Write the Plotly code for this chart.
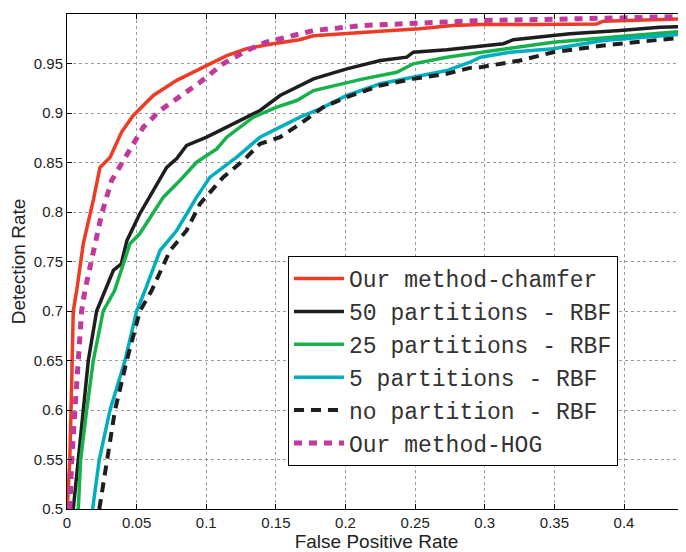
import plotly.graph_objects as go

# ROC curves
chamfer_fpr = [0.0002, 0.002, 0.0029, 0.0036, 0.0045, 0.007, 0.0117, 0.0189, 0.0237, 0.0309, 0.0393, 0.0476,
               0.062, 0.0788, 0.0955, 0.1147, 0.129, 0.148, 0.167, 0.177, 0.225, 0.253, 0.277, 0.297, 0.3373,
               0.3804, 0.3851, 0.4445]
chamfer_dr = [0.5, 0.55, 0.6, 0.65, 0.7, 0.721, 0.768, 0.812, 0.845, 0.855, 0.881, 0.8975,
              0.9177, 0.933, 0.9446, 0.958, 0.965, 0.970, 0.974, 0.978, 0.9826, 0.985, 0.9884, 0.9894, 0.9894,
              0.99, 0.9927, 0.9951]

p50_fpr = [0.0045, 0.0081, 0.0117, 0.0153, 0.0213, 0.0273, 0.0333, 0.039, 0.043, 0.0522, 0.062, 0.0716,
           0.0788, 0.0859, 0.1003, 0.1194, 0.1386, 0.153, 0.177, 0.2009, 0.225, 0.244, 0.2487, 0.2727, 0.2894,
           0.3133, 0.3205, 0.3612, 0.3971, 0.4258, 0.4445]
p50_dr = [0.5, 0.55, 0.6, 0.65, 0.7, 0.7207, 0.741, 0.7477, 0.771, 0.798, 0.8217, 0.845,
          0.854, 0.8672, 0.8756, 0.889, 0.9025, 0.9177, 0.9345, 0.9446, 0.953, 0.9564, 0.9614, 0.9638, 0.9665,
          0.97, 0.974, 0.98, 0.9833, 0.9867, 0.9874]

p25_fpr = [0.0081, 0.0098, 0.0141, 0.0189, 0.026, 0.0342, 0.0452, 0.0522, 0.0692, 0.0811, 0.0931, 0.1075,
           0.1147, 0.1338, 0.1506, 0.165, 0.177, 0.2128, 0.2368, 0.2487, 0.2727, 0.297, 0.3181, 0.3492, 0.3971,
           0.4445]
p25_dr = [0.5, 0.55, 0.6, 0.65, 0.7, 0.7207, 0.7679, 0.778, 0.815, 0.8318, 0.8503, 0.8638,
          0.8756, 0.8958, 0.9059, 0.9126, 0.9227, 0.9345, 0.9412, 0.9497, 0.9564, 0.9614, 0.965, 0.9715, 0.9773,
          0.9826]

p5_fpr = [0.0184, 0.0232, 0.0309, 0.0417, 0.05, 0.056, 0.0668, 0.0788, 0.0931, 0.1027, 0.1219, 0.1386,
          0.153, 0.1673, 0.1817, 0.2009, 0.225, 0.2487, 0.2727, 0.2894, 0.297, 0.3181, 0.3492, 0.3851, 0.4445]
p5_dr = [0.5, 0.55, 0.6, 0.65, 0.7, 0.7207, 0.7611, 0.7813, 0.815, 0.8352, 0.8554, 0.8756,
         0.8857, 0.8958, 0.9042, 0.9177, 0.9295, 0.9362, 0.9429, 0.9513, 0.9564, 0.9614, 0.965, 0.9732, 0.98]

nop_fpr = [0.0232, 0.0285, 0.0345, 0.0429, 0.0524, 0.0608, 0.074, 0.0859, 0.0955, 0.1122, 0.1266, 0.1386,
           0.153, 0.1673, 0.184, 0.2009, 0.225, 0.2487, 0.2727, 0.2894, 0.297, 0.3253, 0.3492, 0.3851, 0.4445]
nop_dr = [0.5, 0.55, 0.6, 0.65, 0.7, 0.7207, 0.7611, 0.7813, 0.8083, 0.8352, 0.852, 0.8689,
          0.8756, 0.889, 0.9059, 0.916, 0.9278, 0.9345, 0.9396, 0.9456, 0.9463, 0.953, 0.9614, 0.9682, 0.9766]

hog_fpr = [0.002, 0.0034, 0.0057, 0.0081, 0.0105, 0.0129, 0.0177, 0.0249, 0.032, 0.043, 0.0548, 0.0668,
           0.0788, 0.0955, 0.112, 0.129, 0.143, 0.153, 0.177, 0.213, 0.2487, 0.297, 0.361, 0.4445]
hog_dr = [0.5, 0.55, 0.6, 0.65, 0.7, 0.721, 0.754, 0.798, 0.8318, 0.8588, 0.8857, 0.9025,
          0.9143, 0.931, 0.9497, 0.963, 0.9715, 0.975, 0.9833, 0.9884, 0.9907, 0.9934, 0.995, 0.9975]

x_ticks = [0, 0.05, 0.1, 0.15, 0.2, 0.25, 0.3, 0.35, 0.4]
y_ticks = [0.5, 0.55, 0.6, 0.65, 0.7, 0.75, 0.8, 0.85, 0.9, 0.95, 1]

series = [
    ("Our method-chamfer", chamfer_fpr, chamfer_dr, "#EE3B24", "solid", 3.5),
    ("50 partitions - RBF", p50_fpr, p50_dr, "#1E1E1E", "solid", 3.5),
    ("25 partitions - RBF", p25_fpr, p25_dr, "#17B04B", "solid", 3.5),
    ("5 partitions - RBF", p5_fpr, p5_dr, "#00AEC0", "solid", 3.5),
    ("no partition - RBF", nop_fpr, nop_dr, "#1E1E1E", "10px,7px", 4),
    ("Our method-HOG", hog_fpr, hog_dr, "#C2399B", "8px,7px", 5),
]

fig = go.Figure()
for name, xs, ys, col, dash, w in series:
    fig.add_trace(go.Scatter(x=xs, y=ys, mode="lines", name=name,
                             line=dict(color=col, width=w, dash=dash)))

# page body adds an 8px margin, so the figure is 8px smaller and margins shifted
fig.update_layout(
    width=678, height=544,
    margin=dict(l=59, r=0, t=6, b=43),
    paper_bgcolor="white", plot_bgcolor="white",
    font=dict(family="Liberation Sans, Arial", size=15, color="#222"),
    legend=dict(x=0.357, y=0.511, xanchor="left", yanchor="top",
                bgcolor="white", bordercolor="black", borderwidth=1,
                font=dict(family="Courier New, Liberation Mono", size=23, color="#333"),
                itemwidth=50),
)
fig.update_xaxes(
    range=[0, 0.4445], tickvals=x_ticks, ticktext=[str(v) for v in x_ticks],
    showline=True, linecolor="black", linewidth=1, mirror="ticks",
    ticks="inside", ticklen=5, tickcolor="black", automargin=False,
    tickfont=dict(size=15),
    showgrid=True, gridcolor="#999", griddash="dot", gridwidth=1, zeroline=False,
    title=dict(text="False Positive Rate", font=dict(size=19), standoff=0),
)
fig.update_yaxes(
    range=[0.5, 1], tickvals=y_ticks, ticktext=[str(v) for v in y_ticks],
    showline=True, linecolor="black", linewidth=1, mirror=False,
    ticks="inside", ticklen=5, tickcolor="black", automargin=False,
    tickfont=dict(size=15),
    showgrid=True, gridcolor="#999", griddash="dot", gridwidth=1, zeroline=False,
    title=dict(text="Detection Rate", font=dict(size=19), standoff=3),
)

fig.write_html("out.html")
